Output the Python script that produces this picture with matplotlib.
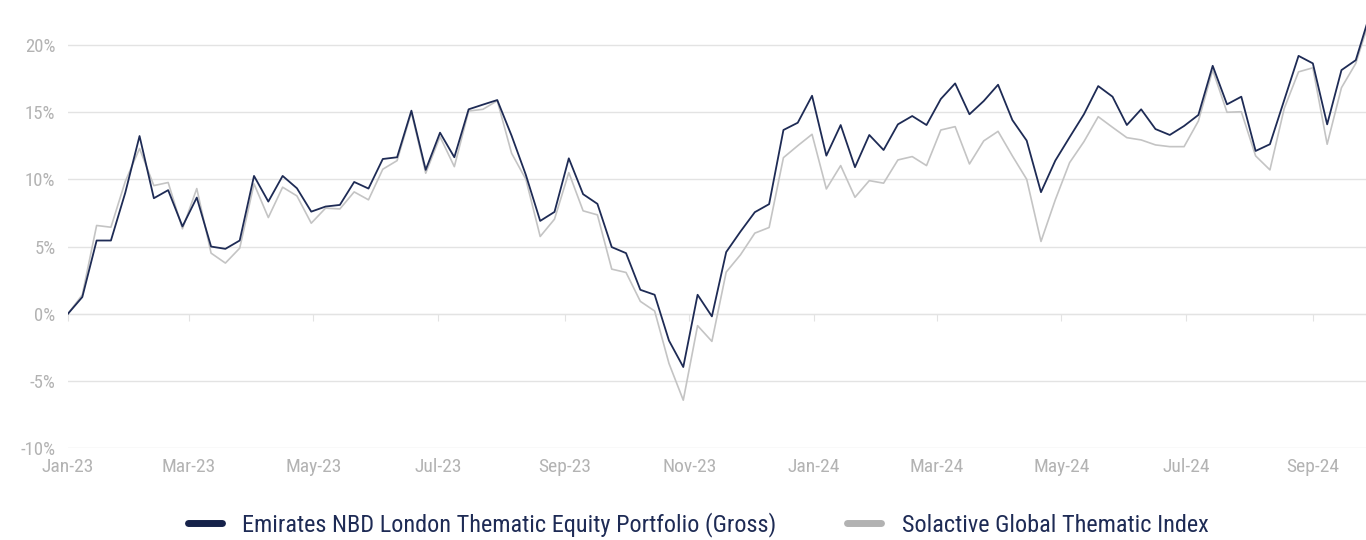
import matplotlib
matplotlib.use("Agg")
import matplotlib.pyplot as plt
from matplotlib.lines import Line2D
import pandas as pd
from matplotlib import font_manager

# ---- data (cumulative return, %) ----
portfolio = [0.0, 1.24, 5.45, 5.45, 9.0, 13.23, 8.6, 9.2, 6.5, 8.65,
             5.0, 4.83, 5.45, 10.26, 8.35, 10.26, 9.34, 7.6, 7.98, 8.1,
             9.81, 9.32, 11.52, 11.65, 15.12, 10.71, 13.48, 11.65, 15.22, 15.57,
             15.91, 13.26, 10.33, 6.91, 7.58, 11.57, 8.9, 8.18, 4.96, 4.51,
             1.78, 1.41, -2.0, -3.97, 1.41, -0.2, 4.59, 6.12, 7.56, 8.16,
             13.68, 14.22, 16.23, 11.77, 14.05, 10.91, 13.31, 12.19, 14.1, 14.72,
             14.05, 15.99, 17.15, 14.85, 15.84, 17.05, 14.42, 12.89, 9.05, 11.4,
             13.14, 14.85, 16.95, 16.16, 14.05, 15.22, 13.75, 13.31, 13.98, 14.8,
             18.46, 15.59, 16.16, 12.12, 12.62, 15.91, 19.2, 18.64, 14.1, 18.14,
             18.88, 22.35]
index = [0.0, 1.41, 6.57, 6.44, 9.84, 12.3, 9.54, 9.77, 6.32, 9.32,
         4.51, 3.77, 4.88, 9.67, 7.16, 9.42, 8.77, 6.74, 7.86, 7.8,
         9.07, 8.48, 10.76, 11.4, 15.0, 10.46, 13.18, 10.95, 15.09, 15.22,
         15.86, 11.95, 10.01, 5.75, 7.04, 10.51, 7.66, 7.36, 3.32, 3.07,
         0.92, 0.2, -3.7, -6.44, -0.89, -2.06, 3.1, 4.39, 6.0, 6.42,
         11.62, 12.51, 13.36, 9.29, 11.03, 8.67, 9.91, 9.72, 11.45, 11.7,
         11.03, 13.68, 13.93, 11.15, 12.87, 13.58, 11.75, 10.01, 5.38, 8.48,
         11.25, 12.81, 14.67, 13.88, 13.11, 12.94, 12.57, 12.44, 12.44, 14.35,
         18.14, 15.0, 15.04, 11.75, 10.71, 15.29, 18.01, 18.31, 12.62, 16.83,
         18.64, 22.0]
dates = pd.date_range("2023-01-01", periods=len(portfolio), freq="7D")
tick_dates = pd.date_range("2023-01-01", "2024-09-01", freq="2MS")
tick_labels = [d.strftime("%b-%y") for d in tick_dates]
y_ticks = [-10, -5, 0, 5, 10, 15, 20]
y_labels = [f"{v}%" for v in y_ticks]
series_names = ["Emirates NBD London Thematic Equity Portfolio (Gross)",
                "Solactive Global Thematic Index"]

# ---- fonts ----
avail = {f.name for f in font_manager.fontManager.ttflist}
fam = [f for f in ["Liberation Sans Narrow", "Roboto Condensed", "Roboto", "DejaVu Sans"] if f in avail]
plt.rcParams["font.family"] = fam

NAVY = "#1e2b55"
GREY = "#c4c4c4"
TICK = "#b3b3b3"
GRID = "#e3e3e3"

fig = plt.figure(figsize=(13.66, 5.4), dpi=100)
ax = fig.add_axes([68 / 1366, (540 - 448) / 540, 1 - 68 / 1366, 448 / 540])

ax.plot(dates, index, color=GREY, lw=1.2, zorder=3)
ax.plot(dates, portfolio, color=NAVY, lw=1.3, zorder=4)

ax.set_ylim(-10, 23.36)
ax.set_xlim(pd.Timestamp("2023-01-01"), pd.Timestamp("2024-09-27"))
ax.set_yticks(y_ticks)
ax.set_yticklabels(y_labels)
ax.yaxis.grid(True, color=GRID, lw=1)
ax.set_axisbelow(True)
for s in ["top", "right", "left"]:
    ax.spines[s].set_visible(False)
ax.spines["bottom"].set_position(("data", 0))
ax.spines["bottom"].set_color(GRID)
ax.tick_params(axis="y", length=0, pad=9, labelcolor=TICK, labelsize=13.5)
ax.set_xticks(tick_dates)
ax.tick_params(axis="x", direction="out", length=5, color=GRID, labelbottom=False)

sec = ax.secondary_xaxis(0.0)
sec.set_xticks(tick_dates)
sec.set_xticklabels(tick_labels)
sec.tick_params(length=0, pad=7, labelcolor=TICK, labelsize=14)
sec.spines["bottom"].set_visible(False)

handles = [Line2D([], [], color="#16224a", lw=5, solid_capstyle="round"),
           Line2D([], [], color="#b2b2b2", lw=5, solid_capstyle="round")]
leg = fig.legend(handles, series_names, loc="center", bbox_to_anchor=(0.511, 0.028),
                 ncol=2, frameon=False, fontsize=17.5, handlelength=1.4,
                 handletextpad=0.85, columnspacing=2.9)
for t in leg.get_texts():
    t.set_color("#1e2b55")

fig.savefig("out.png", dpi=100)
